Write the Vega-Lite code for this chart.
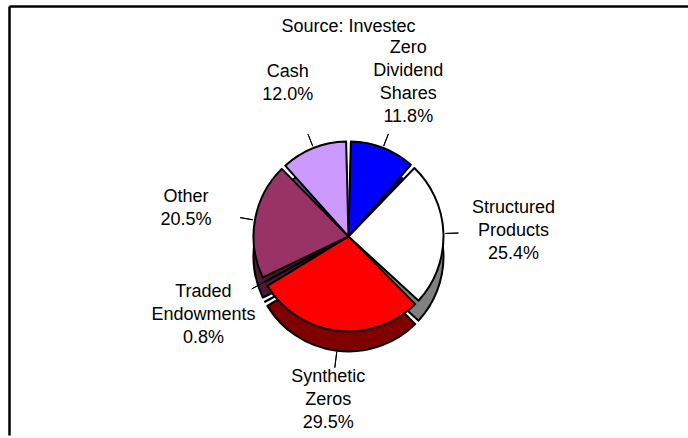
{
  "$schema": "https://vega.github.io/schema/vega-lite/v6.json",
  "width": 688,
  "height": 438,
  "autosize": {"type": "fit", "contains": "padding"},
  "padding": {"left": 6, "top": 6, "right": 0, "bottom": 0},
  "background": "white",
  "config": {"view": {"stroke": null}, "font": "Liberation Sans"},
  "title": {"text": "Source: Investec", "fontSize": 18, "fontWeight": "normal", "font": "Liberation Sans", "color": "black", "offset": -30, "anchor": "middle"},
  "data": {"values": [
    {"cat": "Zero Dividend Shares", "label": "Zero\nDividend\nShares\n11.8%", "value": 11.8, "idx": 1},
    {"cat": "Structured Products", "label": "Structured\nProducts\n25.4%", "value": 25.4, "idx": 2},
    {"cat": "Synthetic Zeros", "label": "Synthetic\nZeros\n29.5%", "value": 29.5, "idx": 3},
    {"cat": "Traded Endowments", "label": "Traded\nEndowments\n0.8%", "value": 0.8, "idx": 4},
    {"cat": "Other", "label": "Other\n20.5%", "value": 20.5, "idx": 5},
    {"cat": "Cash", "label": "Cash\n12.0%", "value": 12.0, "idx": 6}
  ]},
  "transform": [
    {"window": [{"op": "sum", "field": "value", "as": "cum"}], "sort": [{"field": "idx"}]},
    {"calculate": "datum.cum - datum.value / 2", "as": "mid"}
  ],
  "layer": [
    {
      "mark": {"type": "point", "opacity": 0},
      "encoding": {
        "x": {"datum": 0, "type": "quantitative", "scale": {"domain": [0, 1]}, "axis": {"orient": "top", "domainColor": "black", "domainWidth": 2.5, "ticks": false, "labels": false, "grid": false, "title": null}},
        "y": {"datum": 0, "type": "quantitative", "scale": {"domain": [0, 1]}, "axis": {"orient": "left", "domainColor": "black", "domainWidth": 2.5, "ticks": false, "labels": false, "grid": false, "title": null}}
      }
    },
    {
      "mark": {"type": "arc", "outerRadius": 95, "padAngle": 0.05, "stroke": "black", "strokeWidth": 2, "strokeJoin": "round", "yOffset": 36},
      "encoding": {
        "theta": {"field": "value", "type": "quantitative", "stack": true, "scale": {"domain": [0, 100]}},
        "order": {"field": "idx", "type": "quantitative"},
        "color": {"field": "cat", "type": "nominal", "legend": null, "scale": {"domain": ["Zero Dividend Shares", "Structured Products", "Synthetic Zeros", "Traded Endowments", "Other", "Cash"], "range": ["#000080", "#808080", "#800000", "#808000", "#4d1933", "#665080"]}}
      }
    },
    {
      "mark": {"type": "arc", "outerRadius": 95, "padAngle": 0.05, "stroke": "black", "strokeWidth": 2, "strokeJoin": "round", "yOffset": 16},
      "encoding": {
        "theta": {"field": "value", "type": "quantitative", "stack": true, "scale": {"domain": [0, 100]}},
        "order": {"field": "idx", "type": "quantitative"},
        "color": {"field": "cat", "type": "nominal", "legend": null, "scale": {"domain": ["Zero Dividend Shares", "Structured Products", "Synthetic Zeros", "Traded Endowments", "Other", "Cash"], "range": ["#0000ff", "#ffffff", "#ff0000", "#999900", "#993366", "#cc99ff"]}}
      }
    },
    {
      "transform": [{"filter": "datum.idx != 3"}],
      "mark": {"type": "arc", "innerRadius": 97, "outerRadius": 110, "stroke": "black", "strokeWidth": 1, "fill": null, "yOffset": 16},
      "encoding": {
        "theta": {"field": "mid", "type": "quantitative", "scale": {"domain": [0, 100]}},
        "theta2": {"field": "mid"}
      }
    },
    {
      "transform": [{"filter": "datum.idx == 3"}],
      "mark": {"type": "arc", "innerRadius": 96, "outerRadius": 112, "stroke": "black", "strokeWidth": 1, "fill": null, "yOffset": 36},
      "encoding": {
        "theta": {"field": "mid", "type": "quantitative", "scale": {"domain": [0, 100]}},
        "theta2": {"field": "mid"}
      }
    },
    {
      "transform": [{"filter": "datum.idx == 1"}],
      "mark": {"type": "text", "radius": 165, "dy": -18.5, "fontSize": 18, "lineHeight": 23, "lineBreak": "\n", "align": "center", "baseline": "middle", "color": "black", "font": "Liberation Sans"},
      "encoding": {
        "theta": {"field": "mid", "type": "quantitative", "scale": {"domain": [0, 100]}},
        "text": {"field": "label", "type": "nominal"}
      }
    },
    {
      "transform": [{"filter": "datum.idx >= 2 && datum.idx <= 4"}],
      "mark": {"type": "text", "radius": 165, "dy": -7, "fontSize": 18, "lineHeight": 23, "lineBreak": "\n", "align": "center", "baseline": "middle", "color": "black", "font": "Liberation Sans"},
      "encoding": {
        "theta": {"field": "mid", "type": "quantitative", "scale": {"domain": [0, 100]}},
        "text": {"field": "label", "type": "nominal"}
      }
    },
    {
      "transform": [{"filter": "datum.idx >= 5"}],
      "mark": {"type": "text", "radius": 165, "dy": 4.5, "fontSize": 18, "lineHeight": 23, "lineBreak": "\n", "align": "center", "baseline": "middle", "color": "black", "font": "Liberation Sans"},
      "encoding": {
        "theta": {"field": "mid", "type": "quantitative", "scale": {"domain": [0, 100]}},
        "text": {"field": "label", "type": "nominal"}
      }
    }
  ],
  "resolve": {"scale": {"color": "independent"}}
}
